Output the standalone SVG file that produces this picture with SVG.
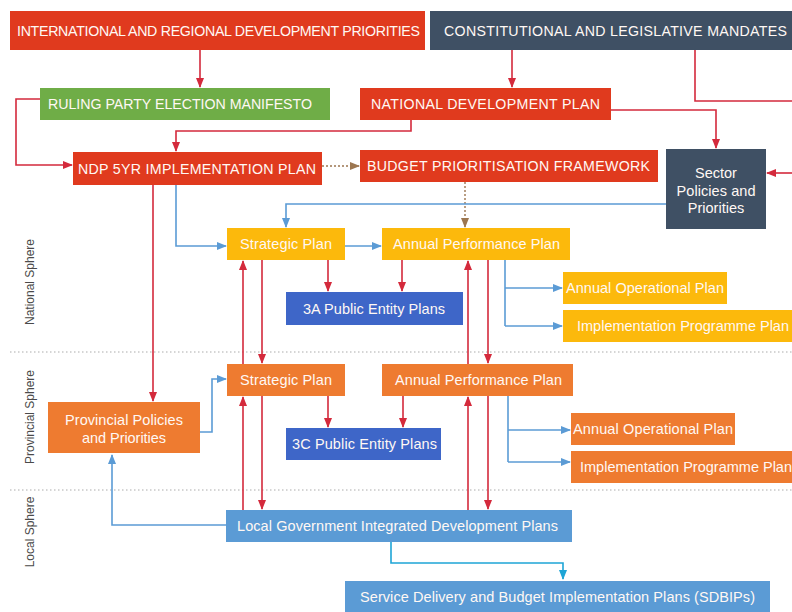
<svg xmlns="http://www.w3.org/2000/svg" width="792" height="612" viewBox="0 0 792 612">
  <defs>
    <marker id="arRed" markerUnits="userSpaceOnUse" markerWidth="10" markerHeight="10" viewBox="0 0 10 10" refX="9" refY="5" orient="auto">
      <path d="M0,1 L10,5 L0,9 Z" fill="#d42a3c"/>
    </marker>
    <marker id="arBlue" markerUnits="userSpaceOnUse" markerWidth="10" markerHeight="10" viewBox="0 0 10 10" refX="9" refY="5" orient="auto">
      <path d="M0,1 L10,5 L0,9 Z" fill="#5b9bd5"/>
    </marker>
    <marker id="arBrown" markerUnits="userSpaceOnUse" markerWidth="10" markerHeight="10" viewBox="0 0 10 10" refX="9" refY="5" orient="auto">
      <path d="M0,1 L10,5 L0,9 Z" fill="#9c7650"/>
    </marker>
    <marker id="arCyan" markerUnits="userSpaceOnUse" markerWidth="10" markerHeight="10" viewBox="0 0 10 10" refX="9" refY="5" orient="auto">
      <path d="M0,1 L10,5 L0,9 Z" fill="#1ea5d6"/>
    </marker>
  </defs>
  <style>
    text { font-family: "Liberation Sans", Arial, sans-serif; fill: #fff8f4; }
    .cap { font-size: 14.2px; }
    .lbl { font-size: 14.5px; }
    .sphere { font-size: 12px; fill: #4a4a4a; }
    .red { fill: #e03a1e; }
    .slate { fill: #3f5064; }
    .green { fill: #6fad47; }
    .yellow { fill: #fcb90c; }
    .orange { fill: #ee7b30; }
    .dblue { fill: #3e66c8; }
    .lblue { fill: #5b9bd5; }
    .cr { fill: none; stroke: #d42a3c; stroke-width: 1.6; marker-end: url(#arRed); }
    .crn { fill: none; stroke: #d42a3c; stroke-width: 1.6; }
    .cb { fill: none; stroke: #5b9bd5; stroke-width: 1.6; marker-end: url(#arBlue); }
    .cbn { fill: none; stroke: #5b9bd5; stroke-width: 1.6; }
    .cd { fill: none; stroke: #9c7650; stroke-width: 1.4; stroke-dasharray: 2 2; marker-end: url(#arBrown); }
    .cc { fill: none; stroke: #1ea5d6; stroke-width: 1.6; marker-end: url(#arCyan); }
    .sep { stroke: #c8c8c8; stroke-width: 1.5; stroke-dasharray: 1.5 2.5; }
  </style>

  <rect width="792" height="612" fill="#ffffff"/>

  <!-- sphere separators -->
  <g id="separators">
    <line class="sep" x1="10" y1="352" x2="792" y2="352"/>
    <line class="sep" x1="10" y1="490" x2="792" y2="490"/>
  </g>

  <!-- sphere labels -->
  <g id="sphere-labels">
    <text class="sphere" transform="translate(34,282) rotate(-90)" text-anchor="middle">National Sphere</text>
    <text class="sphere" transform="translate(34,417) rotate(-90)" text-anchor="middle">Provincial Sphere</text>
    <text class="sphere" transform="translate(34,532) rotate(-90)" text-anchor="middle">Local Sphere</text>
  </g>

  <!-- connectors -->
  <g id="connectors">
    <path class="cr" d="M200,50 V87"/>
    <path class="cr" d="M512,50 V87"/>
    <path class="crn" d="M695,50 V101 H792"/>
    <path class="cr" d="M792,173 H767"/>
    <path class="cr" d="M40,99 H16 V165 H72"/>
    <path class="cr" d="M411,120 V131 H176 V151"/>
    <path class="cr" d="M611,110 H716 V148"/>
    <path class="cd" d="M322,166 H359"/>
    <path class="cd" d="M465,182 V227"/>
    <path class="cb" d="M666,204 H286 V227"/>
    <path class="cb" d="M176,185 V246 H226"/>
    <path class="cr" d="M153,185 V401"/>
    <path class="cb" d="M345,246 H381"/>
    <path class="cr" d="M328,260 V291"/>
    <path class="cr" d="M402,260 V291"/>
    <path class="cbn" d="M505,260 V326"/>
    <path class="cb" d="M505,288 H562"/>
    <path class="cb" d="M505,326 H562"/>
    <path class="cr" d="M243,364 V261"/>
    <path class="cr" d="M262,260 V363"/>
    <path class="cr" d="M468,364 V261"/>
    <path class="cr" d="M488,260 V363"/>
    <path class="cb" d="M200,432 H212 V379 H226"/>
    <path class="cr" d="M328,396 V427"/>
    <path class="cr" d="M403,396 V427"/>
    <path class="cbn" d="M508,396 V462"/>
    <path class="cb" d="M508,430 H570"/>
    <path class="cb" d="M508,462 H570"/>
    <path class="cr" d="M243,510 V397"/>
    <path class="cr" d="M262,396 V509"/>
    <path class="cr" d="M468,510 V397"/>
    <path class="cr" d="M488,396 V509"/>
    <path class="cb" d="M226,525 H112 V455"/>
    <path class="cc" d="M391,542 V563 H563 V579"/>
  </g>

  <!-- nodes -->
  <g id="intl-priorities">
    <rect class="red" x="10" y="11" width="415" height="39"/>
    <text class="cap" x="17" y="36" textLength="403">INTERNATIONAL AND REGIONAL DEVELOPMENT PRIORITIES</text>
  </g>
  <g id="constitutional-mandates">
    <rect class="slate" x="430" y="11" width="362" height="39"/>
    <text class="cap" x="444" y="36" textLength="343">CONSTITUTIONAL AND LEGISLATIVE MANDATES</text>
  </g>
  <g id="election-manifesto">
    <rect class="green" x="40" y="88" width="290" height="32"/>
    <text class="cap" x="48" y="109" textLength="264">RULING PARTY ELECTION MANIFESTO</text>
  </g>
  <g id="national-development-plan">
    <rect class="red" x="360" y="88" width="251" height="32"/>
    <text class="cap" x="371" y="109" textLength="229">NATIONAL DEVELOPMENT PLAN</text>
  </g>
  <g id="ndp-5yr-plan">
    <rect class="red" x="73" y="152" width="249" height="33"/>
    <text class="cap" x="78" y="174" textLength="238">NDP 5YR IMPLEMENTATION PLAN</text>
  </g>
  <g id="budget-framework">
    <rect class="red" x="360" y="150" width="298" height="32"/>
    <text class="cap" x="367" y="171" textLength="283">BUDGET PRIORITISATION FRAMEWORK</text>
  </g>
  <g id="sector-policies">
    <rect class="slate" x="666" y="149" width="100" height="80"/>
    <text class="lbl" x="716" y="178" text-anchor="middle">Sector</text>
    <text class="lbl" x="716" y="196" text-anchor="middle" textLength="79">Policies and</text>
    <text class="lbl" x="716" y="213" text-anchor="middle">Priorities</text>
  </g>

  <g id="national-strategic-plan">
    <rect class="yellow" x="227" y="228" width="118" height="32"/>
    <text class="lbl" x="240" y="249" textLength="92">Strategic Plan</text>
  </g>
  <g id="national-app">
    <rect class="yellow" x="382" y="228" width="188" height="32"/>
    <text class="lbl" x="393" y="249" textLength="167">Annual Performance Plan</text>
  </g>
  <g id="public-entity-3a">
    <rect class="dblue" x="286" y="292" width="177" height="33"/>
    <text class="lbl" x="303" y="314" textLength="142">3A Public Entity Plans</text>
  </g>
  <g id="national-operational-plan">
    <rect class="yellow" x="563" y="272" width="164" height="32"/>
    <text class="lbl" x="566" y="293" textLength="158">Annual Operational Plan</text>
  </g>
  <g id="national-programme-plan">
    <rect class="yellow" x="563" y="310" width="229" height="32"/>
    <text class="lbl" x="577" y="331" textLength="212">Implementation Programme Plan</text>
  </g>

  <g id="provincial-policies">
    <rect class="orange" x="48" y="402" width="152" height="51"/>
    <text class="lbl" x="124" y="425" text-anchor="middle" textLength="118">Provincial Policies</text>
    <text class="lbl" x="124" y="443" text-anchor="middle" textLength="84">and Priorities</text>
  </g>
  <g id="provincial-strategic-plan">
    <rect class="orange" x="227" y="364" width="118" height="32"/>
    <text class="lbl" x="240" y="385" textLength="92">Strategic Plan</text>
  </g>
  <g id="provincial-app">
    <rect class="orange" x="382" y="364" width="191" height="32"/>
    <text class="lbl" x="395" y="385" textLength="167">Annual Performance Plan</text>
  </g>
  <g id="public-entity-3c">
    <rect class="dblue" x="286" y="428" width="155" height="32"/>
    <text class="lbl" x="292" y="449" textLength="145">3C Public Entity Plans</text>
  </g>
  <g id="provincial-operational-plan">
    <rect class="orange" x="571" y="413" width="164" height="32"/>
    <text class="lbl" x="573" y="434" textLength="160">Annual Operational Plan</text>
  </g>
  <g id="provincial-programme-plan">
    <rect class="orange" x="571" y="451" width="221" height="32"/>
    <text class="lbl" x="580" y="472" textLength="212">Implementation Programme Plan</text>
  </g>

  <g id="local-idp">
    <rect class="lblue" x="226" y="510" width="346" height="32"/>
    <text class="lbl" x="237" y="531" textLength="321">Local Government Integrated Development Plans</text>
  </g>
  <g id="sdbips">
    <rect class="lblue" x="345" y="581" width="425" height="31"/>
    <text class="lbl" x="360" y="602" textLength="395">Service Delivery and Budget Implementation Plans (SDBIPs)</text>
  </g>
</svg>
